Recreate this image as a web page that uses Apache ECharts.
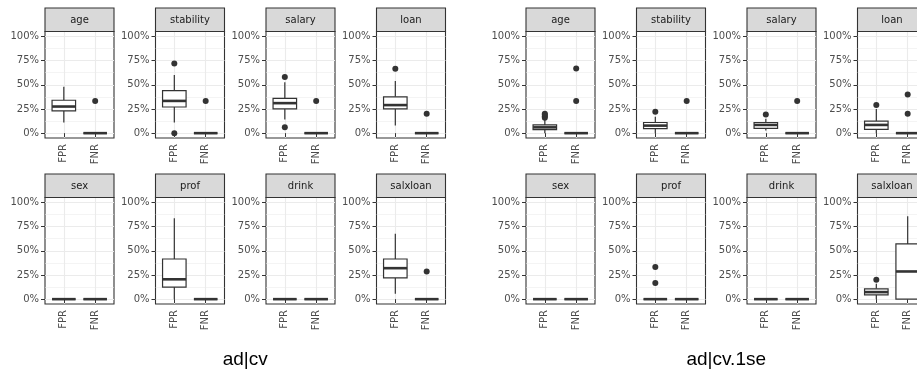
<!DOCTYPE html>
<html>
<head>
<meta charset="utf-8">
<script src="https://cdn.jsdelivr.net/npm/echarts@6/dist/echarts.min.js"></script>
<style>
html,body{margin:0;padding:0;background:#fff;}
#chart{width:917px;height:373px;}
</style>
</head>
<body>
<div id="chart"></div>
<script>
// ---------- data ----------
const facets = ['age', 'stability', 'salary', 'loan', 'sex', 'prof', 'drink', 'salxloan'];
const rates = ['FPR', 'FNR'];
const panelTitles = ['ad|cv', 'ad|cv.1se'];
const yTicks = [0, 0.25, 0.5, 0.75, 1];
const yMinorTicks = [0.125, 0.375, 0.625, 0.875];

// box stats per facet: [min, q1, median, q3, max]
const cvFPR = [
  [0.11, 0.23, 0.275, 0.34, 0.48],
  [0.11, 0.27, 0.333, 0.44, 0.60],
  [0.14, 0.25, 0.31, 0.36, 0.525],
  [0.08, 0.25, 0.29, 0.375, 0.54],
  [0, 0, 0, 0, 0],
  [0, 0.125, 0.205, 0.415, 0.835],
  [0, 0, 0, 0, 0],
  [0.055, 0.22, 0.32, 0.415, 0.675]
];
const cvFNR = [
  [0, 0, 0, 0, 0], [0, 0, 0, 0, 0], [0, 0, 0, 0, 0], [0, 0, 0, 0, 0],
  [0, 0, 0, 0, 0], [0, 0, 0, 0, 0], [0, 0, 0, 0, 0], [0, 0, 0, 0, 0]
];
const cvFPROut = [[], [0.72, 0], [0.58, 0.06], [0.665], [], [], [], []];
const cvFNROut = [[0.333], [0.333], [0.333], [0.2], [], [], [], [0.286]];

const seFPR = [
  [0, 0.037, 0.06, 0.085, 0.14],
  [0, 0.047, 0.078, 0.11, 0.17],
  [0.027, 0.05, 0.085, 0.11, 0.15],
  [0, 0.04, 0.085, 0.125, 0.25],
  [0, 0, 0, 0, 0],
  [0, 0, 0, 0, 0],
  [0, 0, 0, 0, 0],
  [0, 0.045, 0.073, 0.107, 0.16]
];
const seFNR = [
  [0, 0, 0, 0, 0], [0, 0, 0, 0, 0], [0, 0, 0, 0, 0], [0, 0, 0, 0, 0],
  [0, 0, 0, 0, 0], [0, 0, 0, 0, 0], [0, 0, 0, 0, 0], [0, 0, 0.286, 0.571, 0.857]
];
const seFPROut = [[0.16, 0.175, 0.19, 0.2], [0.22], [0.193], [0.29], [], [0.167, 0.333], [], [0.2]];
const seFNROut = [[0.333, 0.667], [0.333], [0.333], [0.2, 0.4], [], [], [], []];

const panelsData = [
  {fpr: cvFPR, fnr: cvFNR, fprOut: cvFPROut, fnrOut: cvFNROut},
  {fpr: seFPR, fnr: seFNR, fprOut: seFPROut, fnrOut: seFNROut}
];

// ---------- layout ----------
const chartOffsets = [0, 481];
const colLefts = [45, 155.5, 266, 376.5];
const panelW = 69;
const stripTops = [8, 174];
const stripH = 23.5;
const panelH = 106.5;
const dark = '#333333';
const gridCol = '#EBEBEB';
const txtFont = '"DejaVu Sans", sans-serif';

const grids = [], xAxes = [], yAxes = [], series = [], graphics = [];

function renderBox(params, api) {
  const x = api.value(0);
  const w = api.size([0.75, 0])[0];
  const lo = api.coord([x, api.value(1)]);
  const q1 = api.coord([x, api.value(2)]);
  const md = api.coord([x, api.value(3)]);
  const q3 = api.coord([x, api.value(4)]);
  const hi = api.coord([x, api.value(5)]);
  const cx = lo[0], l = cx - w / 2, r = cx + w / 2;
  const ls = {stroke: dark, lineWidth: 1.2, fill: null};
  return {type: 'group', children: [
    {type: 'line', shape: {x1: cx, y1: hi[1], x2: cx, y2: q3[1]}, style: ls},
    {type: 'line', shape: {x1: cx, y1: q1[1], x2: cx, y2: lo[1]}, style: ls},
    {type: 'rect', shape: {x: l, y: q3[1], width: w, height: q1[1] - q3[1]},
      style: {fill: '#ffffff', stroke: dark, lineWidth: 1.2}},
    {type: 'line', shape: {x1: l, y1: md[1], x2: r, y2: md[1]},
      style: {stroke: dark, lineWidth: 2.6}}
  ]};
}

let g = 0;
panelsData.forEach(function (pd, p) {
  facets.forEach(function (name, i) {
    const row = Math.floor(i / 4), col = i % 4;
    const left = chartOffsets[p] + colLefts[col];
    const sTop = stripTops[row];
    const pTop = sTop + stripH;
    grids.push({
      left: left, top: pTop, width: panelW, height: panelH,
      show: true, borderColor: dark, borderWidth: 1.1, backgroundColor: '#ffffff',
      containLabel: false, outerBoundsMode: 'none'
    });
    xAxes.push({
      type: 'value', gridIndex: g, min: 0.4, max: 2.6,
      axisLine: {show: false},
      axisTick: {show: true, customValues: [1, 2], length: 4, lineStyle: {color: dark, width: 1}},
      axisLabel: {
        show: true, customValues: [1, 2], rotate: 90, margin: 6,
        color: '#4D4D4D', fontSize: 10, fontFamily: txtFont,
        formatter: function (v) { return rates[Math.round(v) - 1]; }
      },
      splitLine: {show: true, lineStyle: {color: gridCol, width: 1.1}}
    });
    yAxes.push({
      type: 'value', gridIndex: g, min: -0.05, max: 1.05,
      axisLine: {show: false},
      axisTick: {show: true, customValues: yTicks, length: 4, lineStyle: {color: dark, width: 1}},
      axisLabel: {
        show: true, customValues: yTicks, margin: 6,
        color: '#4D4D4D', fontSize: 10, fontFamily: txtFont,
        formatter: function (v) { return Math.round(v * 100) + '%'; }
      },
      splitLine: {show: true, lineStyle: {color: gridCol, width: 1.1}}
    });
    yAxes.push({
      type: 'value', gridIndex: g, min: -0.05, max: 1.05, position: 'left',
      axisLine: {show: false},
      axisTick: {show: false, customValues: yMinorTicks},
      axisLabel: {show: false, customValues: yMinorTicks},
      splitLine: {show: true, lineStyle: {color: gridCol, width: 0.55}}
    });
    const boxData = [[1].concat(pd.fpr[i]), [2].concat(pd.fnr[i])];
    series.push({
      type: 'custom', xAxisIndex: g, yAxisIndex: 2 * g,
      renderItem: renderBox, data: boxData,
      encode: {x: 0, y: [1, 2, 3, 4, 5]}, silent: true, z: 3
    });
    const outs = pd.fprOut[i].map(function (v) { return [1, v]; })
      .concat(pd.fnrOut[i].map(function (v) { return [2, v]; }));
    series.push({
      type: 'scatter', xAxisIndex: g, yAxisIndex: 2 * g, data: outs,
      symbol: 'circle', symbolSize: 6, itemStyle: {color: dark, opacity: 1},
      silent: true, z: 4
    });
    graphics.push({
      type: 'rect', shape: {x: left, y: sTop, width: panelW, height: stripH},
      style: {fill: '#D9D9D9', stroke: dark, lineWidth: 1.1}, z: 10
    });
    graphics.push({
      type: 'text', x: left + panelW / 2, y: sTop + stripH / 2 + 0.5, z: 11,
      style: {text: name, textAlign: 'center', textVerticalAlign: 'middle',
        font: '10px ' + txtFont, fill: '#1A1A1A'}
    });
    g++;
  });
  graphics.push({
    type: 'text', x: chartOffsets[p] + (colLefts[0] + colLefts[3] + panelW) / 2, y: 360, z: 11,
    style: {text: panelTitles[p], textAlign: 'center', textVerticalAlign: 'middle',
      font: '19px "Liberation Sans", Arial, sans-serif', fill: '#000000'}
  });
});

const chart = echarts.init(document.getElementById('chart'), null, {renderer: 'canvas'});
chart.setOption({
  animation: false,
  backgroundColor: '#ffffff',
  grid: grids,
  xAxis: xAxes,
  yAxis: yAxes,
  series: series,
  graphic: graphics
});
</script>
</body>
</html>
